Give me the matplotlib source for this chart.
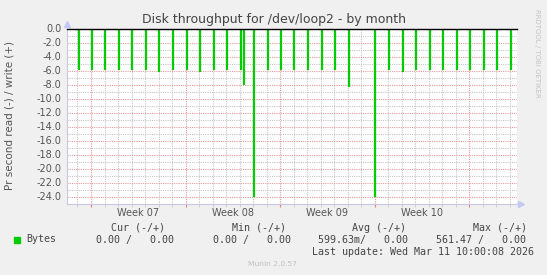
import matplotlib
matplotlib.use("Agg")
import matplotlib.pyplot as plt
import matplotlib.dates as mdates
import matplotlib.transforms as mtransforms
from matplotlib.patches import Rectangle
from datetime import datetime, timedelta

# Dane
spike_times = [
    "2026-02-08 02:00", "2026-02-09 01:40", "2026-02-10 01:40", "2026-02-11 01:40",
    "2026-02-12 01:40", "2026-02-13 01:40", "2026-02-14 01:40", "2026-02-15 01:40",
    "2026-02-16 01:40", "2026-02-17 01:40", "2026-02-18 01:40", "2026-02-19 01:40",
    "2026-02-20 01:40", "2026-02-20 08:10", "2026-02-21 01:20", "2026-02-22 01:40",
    "2026-02-23 01:00", "2026-02-24 01:20", "2026-02-25 01:00", "2026-02-26 01:40",
    "2026-02-27 01:00", "2026-02-28 01:40", "2026-03-02 01:10", "2026-03-03 00:50",
    "2026-03-04 01:40", "2026-03-05 00:50", "2026-03-06 01:30", "2026-03-07 00:50",
    "2026-03-08 01:30", "2026-03-09 00:40", "2026-03-10 01:30", "2026-03-11 00:40",
    "2026-03-12 01:20",
]
spike_values = [
    -5.95, -5.95, -5.95, -5.95,
    -5.95, -5.95, -6.2, -5.95,
    -5.95, -6.2, -5.95, -5.95,
    -5.95, -8.05, -24.0, -5.95,
    -5.95, -5.95, -5.95, -5.95,
    -5.95, -8.3, -24.0, -5.95,
    -6.2, -5.95, -5.95, -5.95,
    -5.95, -5.95, -5.95, -5.95,
    -5.95,
]
week_labels = ["Week 07", "Week 08", "Week 09", "Week 10"]
week_starts = ["2026-02-09", "2026-02-16", "2026-02-23", "2026-03-02"]
y_ticks = [0, -2, -4, -6, -8, -10, -12, -14, -16, -18, -20, -22, -24]

legend_name = "Bytes"
stat_headers = ["Cur (-/+)", "Min (-/+)", "Avg (-/+)", "Max (-/+)"]
stat_values = ["0.00 /   0.00", "0.00 /   0.00", "599.63m/   0.00", "561.47 /   0.00"]
last_update = "Last update: Wed Mar 11 10:00:08 2026"

W, H = 547, 275
fmt = "%Y-%m-%d %H:%M"
times = [datetime.strptime(t, fmt) for t in spike_times]
w0 = datetime.strptime(week_starts[0], "%Y-%m-%d")
t_left = w0 - timedelta(days=24 / 13.51)
t_right = w0 + timedelta(days=426 / 13.51)

fig = plt.figure(figsize=(W / 100, H / 100), dpi=100, facecolor="#f0f0f0")
ax = fig.add_axes([67 / W, 71.5 / H, 450 / W, 175 / H])
ax.set_facecolor("white")
ax.set_xlim(t_left, t_right)
ax.set_ylim(-25, 0)

# Siatka
ax.xaxis.set_major_locator(mdates.WeekdayLocator(byweekday=mdates.MO))
ax.xaxis.set_minor_locator(mdates.DayLocator())
ax.xaxis.set_major_formatter(plt.NullFormatter())
ax.yaxis.set_minor_locator(plt.MultipleLocator(1))
ax.set_yticks(y_ticks)
ax.set_yticklabels(["%.1f" % v if v != 0 else "0.0" for v in y_ticks])

grid_red = "#e89a9a"
grid_gray = "#c6c6c6"
ax.grid(which="major", color=grid_red, linestyle=(0, (1, 1)), linewidth=0.8)
ax.grid(which="minor", color=grid_gray, linestyle=(0, (1, 1)), linewidth=0.8)
ax.set_axisbelow(True)

ax.tick_params(axis="x", which="major", length=2.5, color="#e08080", direction="out")
ax.tick_params(axis="x", which="minor", length=2, color="#c8c8c8", direction="out")
ax.tick_params(axis="y", which="both", length=0, pad=4, labelsize=7, labelcolor="#555555")

for s in ["top", "right"]:
    ax.spines[s].set_visible(False)
for s in ["left", "bottom"]:
    ax.spines[s].set_color("#c8c8e0")
    ax.spines[s].set_linewidth(0.8)

# strzałki osi
ax.plot([0], [1 + 5 / 175], marker="^", markersize=4, color="#c4c8f4",
        transform=ax.transAxes, clip_on=False)
ax.plot([1 + 4 / 450], [0], marker=">", markersize=4, color="#c4c8f4",
        transform=ax.transAxes, clip_on=False)

# Dane
ax.vlines(times, 0, spike_values, color="#00cc00", linewidth=1.6, zorder=2.5)
ax.axhline(0, color="black", linewidth=1.0, clip_on=False, zorder=3)

# Etykiety tygodni
trans = mtransforms.blended_transform_factory(ax.transData, ax.transAxes)
for lab, ws in zip(week_labels, week_starts):
    center = datetime.strptime(ws, "%Y-%m-%d") + timedelta(days=3.5)
    ax.text(center, -10 / 175, lab, transform=trans, ha="center", va="center",
            fontsize=7, color="#555555")

# Teksty
fig.text(273.5 / W, 1 - 19 / H, "Disk throughput for /dev/loop2 - by month",
         ha="center", va="center", fontsize=9, color="#444444")
fig.text(10 / W, 1 - 115.5 / H, "Pr second read (-) / write (+)", rotation=90,
         ha="center", va="center", fontsize=7.5, color="#555555")
fig.text(537 / W, 1 - 53 / H, "RRDTOOL / TOBI OETIKER", rotation=270,
         ha="center", va="center", fontsize=5, color="#c4c4c4")

# Legenda
mono = dict(family="DejaVu Sans Mono", fontsize=7.2, color="#444444", va="center", ha="left")
fig.patches.append(Rectangle((14 / W, 1 - 242.7 / H), 6 / W, 6 / H,
                             transform=fig.transFigure, color="#00cc00"))
fig.text(26.7 / W, 1 - 239.5 / H, legend_name, **mono)
header_x = [111, 231.7, 352.3, 472.7]
value_x = [95.7, 213.3, 318.3, 436]
for hx, h in zip(header_x, stat_headers):
    fig.text(hx / W, 1 - 228 / H, h, **mono)
for vx, v in zip(value_x, stat_values):
    fig.text(vx / W, 1 - 239.5 / H, v, **mono)
fig.text(311.7 / W, 1 - 251.7 / H, last_update, **mono)

fig.text(272.5 / W, 1 - 264 / H, "Munin 2.0.57", ha="center", va="center",
         fontsize=5.4, color="#c0c0c0")

plt.savefig("out.png", dpi=100, facecolor=fig.get_facecolor())
plt.close()
